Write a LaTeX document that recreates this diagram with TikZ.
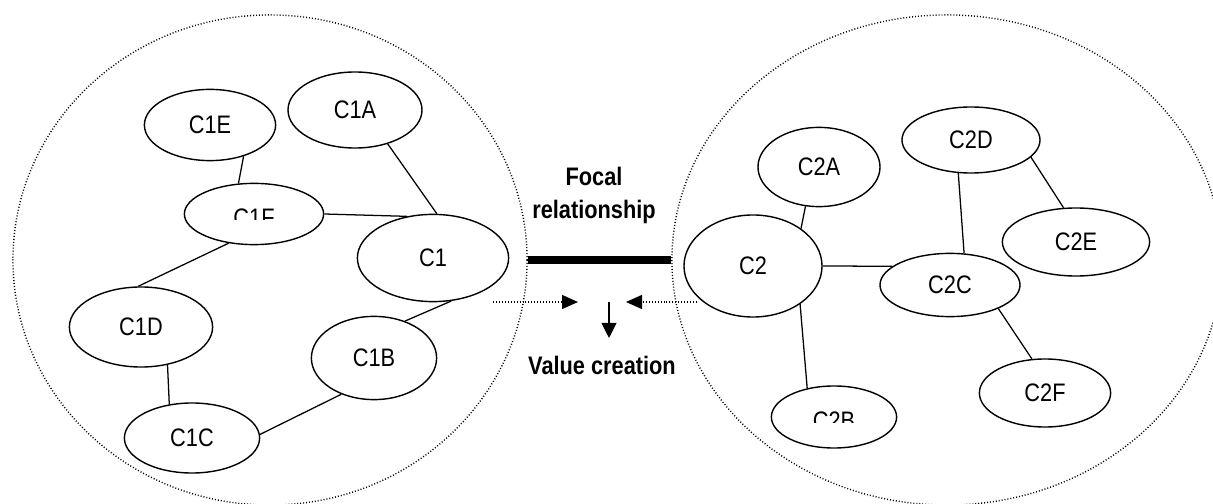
\documentclass[tikz,border=0pt]{standalone}
\usepackage{fontspec}
\setmainfont[FakeStretch=0.86]{Liberation Sans}
\usepackage{trimclip}
\usetikzlibrary{shapes.geometric,arrows.meta}
\tikzset{
  cell/.style={ellipse, draw, line width=1pt, inner sep=0pt, font=\fontsize{18}{20}\selectfont},
  zone/.style={ellipse, draw, line width=1pt, dash pattern=on 0.7pt off 1.4pt, inner sep=0pt},
  link/.style={line width=0.9pt},
  cue/.style={line width=1pt, dash pattern=on 0.7pt off 1.4pt, -{Triangle[length=0.4cm,width=0.35cm]}},
  caption/.style={font=\fontsize{18}{23.4}\selectfont\bfseries, align=center, inner sep=0pt}
}
\newcommand\halfshown[1]{\clipbox{0pt {0.42\height} 0pt 0pt}{#1}}
\begin{document}
\begin{tikzpicture}[x=0.025cm, y=-0.025cm]
\useasboundingbox (0,0) rectangle (1213,504);
\node[zone, minimum width=12.85cm, minimum height=12.25cm] (zone1) at (270,260) {};
\node[zone, minimum width=13.75cm, minimum height=12.25cm] (zone2) at (947,260) {};

\node[cell, minimum width=3.28cm, minimum height=1.78cm] (c1e) at (210,125) {C1E};
\node[cell, minimum width=3.35cm, minimum height=1.9cm] (c1a) at (355,110) {C1A};
\node[cell, minimum width=3.48cm, minimum height=1.53cm] (c1f) at (254,214) {\halfshown{C1F}};
\node[cell, minimum width=3.78cm, minimum height=2.18cm] (c1) at (433,258) {C1};
\node[cell, minimum width=3.58cm, minimum height=2cm] (c1d) at (141,327) {C1D};
\node[cell, minimum width=3.13cm, minimum height=2.08cm] (c1b) at (374,358) {C1B};
\node[cell, minimum width=3.38cm, minimum height=1.75cm] (c1c) at (192,438) {C1C};

\node[cell, minimum width=3.05cm, minimum height=1.98cm] (c2a) at (819,167) {C2A};
\node[cell, minimum width=3.45cm, minimum height=1.65cm] (c2d) at (971,140) {C2D};
\node[cell, minimum width=3.45cm, minimum height=2.55cm] (c2) at (753,266) {C2};
\node[cell, minimum width=3.68cm, minimum height=1.7cm] (c2e) at (1076,242) {C2E};
\node[cell, minimum width=3.5cm, minimum height=1.58cm] (c2c) at (950,285) {C2C};
\node[cell, minimum width=3.28cm, minimum height=1.7cm] (c2f) at (1045,393) {C2F};
\node[cell, minimum width=3.13cm, minimum height=1.55cm] (c2b) at (834,417) {\halfshown{C2B}};

\draw[link] (c1e.-43) -- (c1f.117);
\draw[link] (c1a.-46) -- (c1.85);
\draw[link] (c1f.east) -- (c1.122);
\draw[link] (c1f.229) -- (c1d.94);
\draw[link] (c1d.-55) -- (c1c.124);
\draw[link] (c1b.228) -- (c1c.3);
\draw[link] (c1.-67) -- (c1b.50);

\draw[link] (c2a.251) -- (c2.38);
\draw[link] (c2.east) -- (c2c.162);
\draw[link] (c2d.249) -- (c2c.66);
\draw[link] (c2d.-16) -- (c2e.110);
\draw[link] (c2c.-26) -- (c2f.111);
\draw[link] (c2.-39) -- (c2b.133);

\draw[line width=0.2cm] (zone1.east) -- (zone2.west);
\node[caption, anchor=north] (focal) at (594,167) {Focal\\relationship};

\coordinate (cueL) at (493,302);
\coordinate (tipL) at (578,302);
\coordinate (cueR) at (697,302);
\coordinate (tipR) at (626,302);
\coordinate (drop) at (609,302);
\coordinate (dropend) at (609,338);
\draw[cue] (cueL) -- (tipL);
\draw[cue] (cueR) -- (tipR);
\draw[line width=1pt, -{Triangle[length=0.375cm,width=0.37cm]}] (drop) -- (dropend);
\node[caption, anchor=base] (value) at (602,375) {Value creation};
\end{tikzpicture}
\end{document}
